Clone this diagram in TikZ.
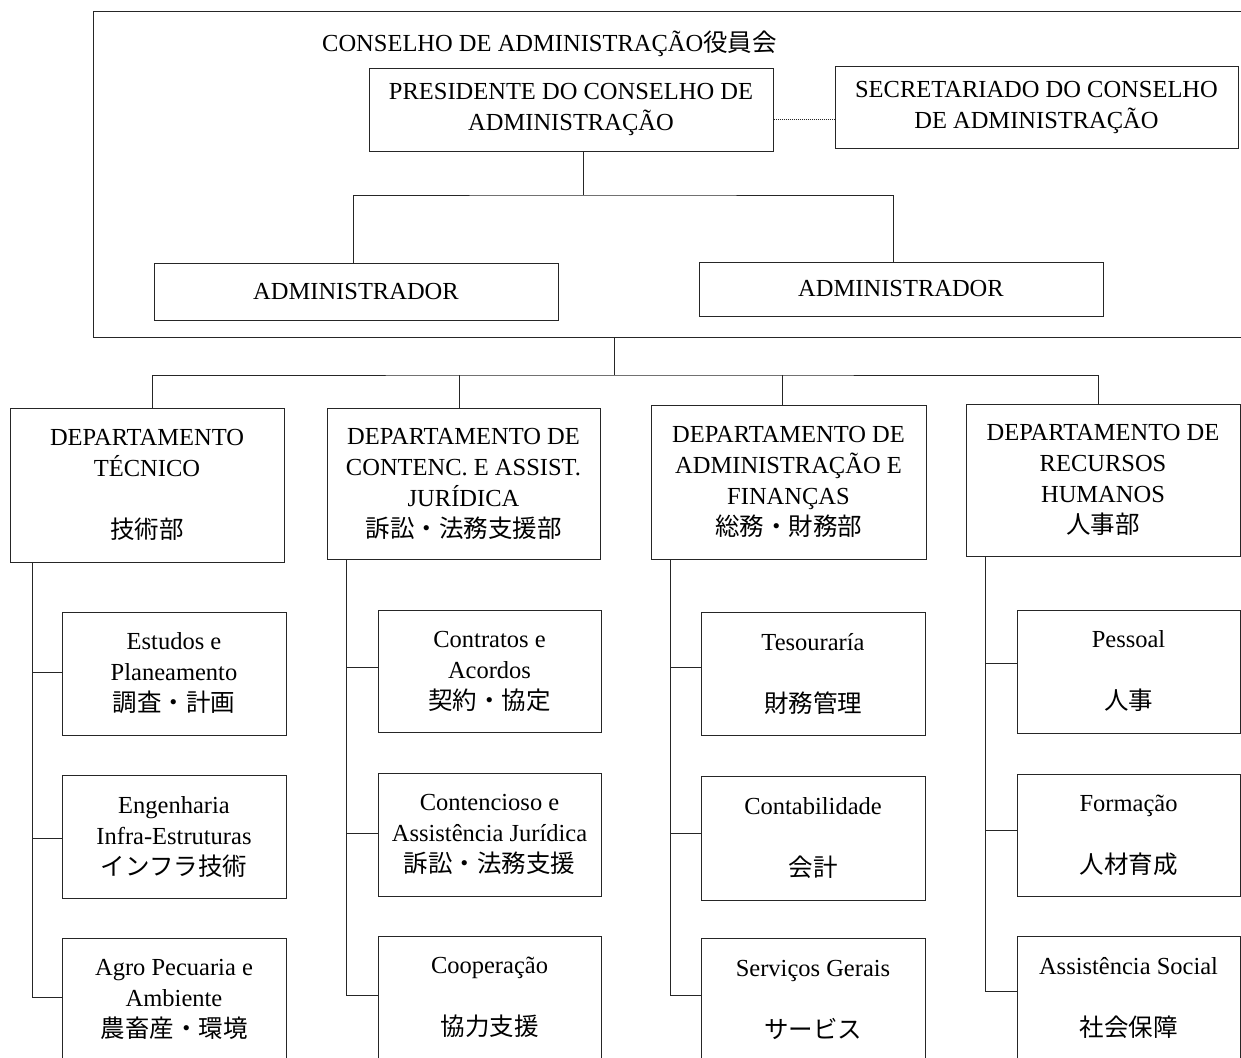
\documentclass[tikz,border=0pt]{standalone}
\usepackage{fontspec}
\setmainfont{Liberation Serif}
\newfontfamily\cjk{Noto Sans CJK JP}
\newcommand\jp[1]{{\cjk #1}}
\begin{document}
\begin{tikzpicture}[x=1pt,y=-1pt,
  txt/.style={font=\fontsize{24.5}{31}\selectfont},
  box/.style={txt, draw=black!85, line width=1pt, align=center, inner sep=0pt},
  sz/.style 2 args={minimum width=#1pt, minimum height=#2pt},
  conn/.style={draw=black!85, line width=1pt}]
\useasboundingbox (0,0) rectangle (1241,1057);
\clip (0,0) rectangle (1241,1057);
\fill[white] (0,0) rectangle (1241,1057);

% board frame
\draw[conn] (1260,12) -- (93,12) -- (93,337) -- (1260,337);
\node[txt, anchor=west, inner sep=0pt] (cons) at (322,44) {CONSELHO DE ADMINISTRAÇÃO\jp{役員会}};

\node[box, sz={404}{83}] (pres) at (571,109.5) {PRESIDENTE DO CONSELHO DE\\ADMINISTRAÇÃO};
\node[box, sz={403}{82}] (sec) at (1036.5,107) {SECRETARIADO DO CONSELHO\\DE ADMINISTRAÇÃO};
\node[box, sz={404}{57}] (adm1) at (356,291.5) {ADMINISTRADOR};
\node[box, sz={404}{54}] (adm2) at (901,289) {ADMINISTRADOR};

\draw[conn, densely dotted, line width=0.8pt] ([yshift=-10pt]pres.east) -- ([yshift=-10pt]pres.east -| sec.west);
\coordinate (b1) at (583,195);
\draw[conn] ([xshift=12pt]pres.south) -- (b1);
\draw[conn] ([xshift=-3pt]adm1.north) |- (b1) -| ([xshift=-8pt]adm2.north);

% departments
\node[box, sz={274}{154}] (d1) at (147,485) {DEPARTAMENTO\\TÉCNICO\\[31pt]\jp{技術部}};
\node[box, sz={273}{151}] (d2) at (463.5,483.5) {DEPARTAMENTO DE\\CONTENC. E ASSIST.\\JURÍDICA\\\jp{訴訟・法務支援部}};
\node[box, sz={275}{154}] (d3) at (788.5,482) {DEPARTAMENTO DE\\ADMINISTRAÇÃO E\\FINANÇAS\\\jp{総務・財務部}};
\node[box, sz={274}{152}] (d4) at (1103,480) {DEPARTAMENTO DE\\RECURSOS\\HUMANOS\\\jp{人事部}};

\coordinate (fb) at (614,337);
\coordinate (b2) at (614,375);
\draw[conn] (fb) -- (b2);
\draw[conn] ([xshift=5pt]d1.north) |- (b2) -| ([xshift=-5pt]d4.north);
\draw[conn] ([xshift=-4.5pt]d2.north) -- ++(0,-33);
\draw[conn] ([xshift=-6.5pt]d3.north) -- ++(0,-30);

% column 1
\node[box, sz={224}{123}] (s11) at (174,673.5) {Estudos e\\Planeamento\\\jp{調査・計画}};
\node[box, sz={224}{123}] (s12) at (174,836.5) {Engenharia\\Infra-Estruturas\\\jp{インフラ技術}};
\node[box, sz={224}{123}] (s13) at (174,999.5) {Agro Pecuaria e\\Ambiente\\\jp{農畜産・環境}};
% column 2
\node[box, sz={223}{122}] (s21) at (489.5,671) {Contratos e\\Acordos\\\jp{契約・協定}};
\node[box, sz={223}{123}] (s22) at (489.5,834.5) {Contencioso e\\Assistência Jurídica\\\jp{訴訟・法務支援}};
\node[box, sz={223}{123}] (s23) at (489.5,997.5) {Cooperação\\[31pt]\jp{協力支援}};
% column 3
\node[box, sz={224}{123}] (s31) at (813,673.5) {Tesouraría\\[31pt]\jp{財務管理}};
\node[box, sz={224}{124}] (s32) at (813,838) {Contabilidade\\[31pt]\jp{会計}};
\node[box, sz={224}{123}] (s33) at (813,999.5) {Serviços Gerais\\[31pt]\jp{サービス}};
% column 4
\node[box, sz={223}{123}] (s41) at (1128.5,671.5) {Pessoal\\[31pt]\jp{人事}};
\node[box, sz={223}{122}] (s42) at (1128.5,835) {Formação\\[31pt]\jp{人材育成}};
\node[box, sz={223}{123}] (s43) at (1128.5,997.5) {Assistência Social\\[31pt]\jp{社会保障}};

% branch lines
\draw[conn] ([xshift=23pt]d1.south west) |- ([yshift=2.5pt]s13.west);
\draw[conn] ([yshift=1.5pt]s11.west) -- ++(-29,0);
\draw[conn] ([yshift=-1.5pt]s12.west) -- ++(-29,0);

\draw[conn] ([xshift=20pt]d2.south west) |- ([yshift=2.5pt]s23.west);
\draw[conn] ([yshift=4pt]s21.west) -- ++(-31,0);
\draw[conn] ([yshift=1.5pt]s22.west) -- ++(-31,0);

\draw[conn] ([xshift=20pt]d3.south west) |- ([yshift=4.5pt]s33.west);
\draw[conn] ([yshift=6.5pt]s31.west) -- ++(-30,0);
\draw[conn] ([yshift=5pt]s32.west) -- ++(-30,0);

\draw[conn] ([xshift=20pt]d4.south west) |- ([yshift=6.5pt]s43.west);
\draw[conn] ([yshift=8.5pt]s41.west) -- ++(-31,0);
\draw[conn] ([yshift=5pt]s42.west) -- ++(-31,0);
\end{tikzpicture}
\end{document}
